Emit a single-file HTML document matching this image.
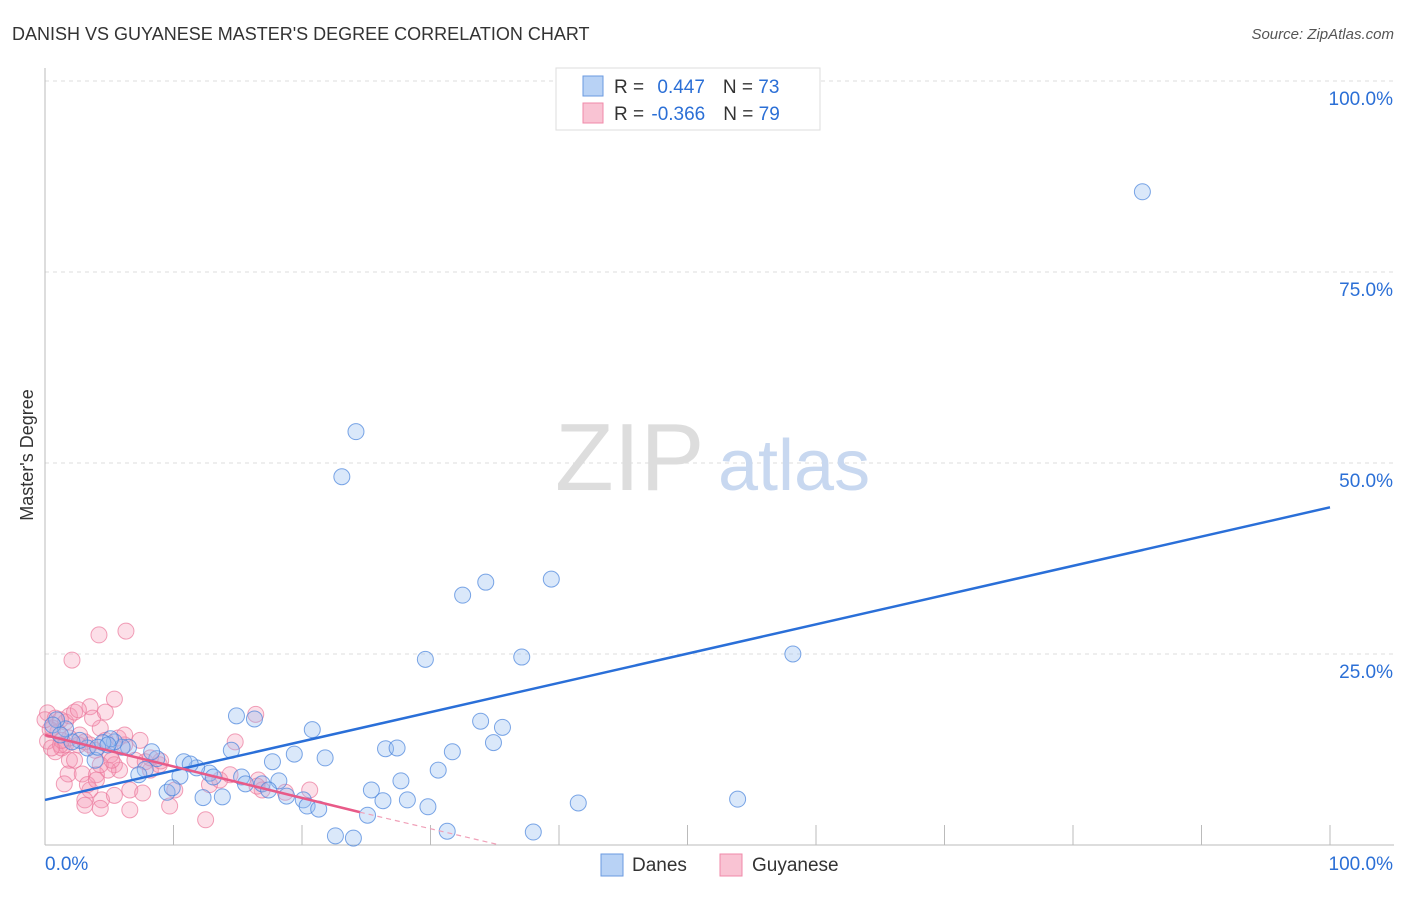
<!DOCTYPE html>
<html><head><meta charset="utf-8"><style>
body{margin:0;background:#fff;font-family:"Liberation Sans",sans-serif;}
svg text{font-family:"Liberation Sans",sans-serif;}
</style></head><body>
<svg width="1406" height="892">
<text x="12" y="40" font-size="18" fill="#333">DANISH VS GUYANESE MASTER'S DEGREE CORRELATION CHART</text>
<text x="1394" y="39" font-size="15" fill="#555" font-style="italic" text-anchor="end">Source: ZipAtlas.com</text>
<g id="grid"></g>
<text x="555" y="490" font-size="96" fill="#ddd" font-family="Liberation Serif">ZIP</text>
<text x="718" y="490" font-size="72" fill="#c8d8f0">atlas</text>
<text x="-455" y="33" transform="rotate(-90)" font-size="18" fill="#333" text-anchor="middle">Master's Degree</text>
<g id="pts"></g><g id="lines"></g>
<g>
<rect x="556" y="68" width="264" height="62" fill="#fff" stroke="#ddd"/>
<rect x="583" y="76" width="20" height="20" fill="#b8d2f5" stroke="#6a9ae0"/>
<rect x="583" y="103" width="20" height="20" fill="#f9c3d3" stroke="#f08aa8"/>
<text x="614" y="93" font-size="19" fill="#333">R = <tspan fill="#2b6fd6" dx="8">0.447</tspan><tspan fill="#333" dx="18">N = </tspan><tspan fill="#2b6fd6">73</tspan></text>
<text x="614" y="120" font-size="19" fill="#333">R = <tspan fill="#2b6fd6" dx="2">-0.366</tspan><tspan fill="#333" dx="18">N = </tspan><tspan fill="#2b6fd6">79</tspan></text>
</g>
<g>
<rect x="601" y="854" width="22" height="22" fill="#b8d2f5" stroke="#6a9ae0"/>
<text x="632" y="871" font-size="19" fill="#333">Danes</text>
<rect x="720" y="854" width="22" height="22" fill="#f9c3d3" stroke="#f08aa8"/>
<text x="752" y="871" font-size="19" fill="#333">Guyanese</text>
</g>
<text x="45" y="870" font-size="19" fill="#2b6fd6">0.0%</text>
<text x="1393" y="870" font-size="19" fill="#2b6fd6" text-anchor="end">100.0%</text>
</svg>
<script>
const yTicks=[25,50,75,100];
const yTickLabels=["25.0%","50.0%","75.0%","100.0%"];
const danesX=[85.4,24.2,23.1,39.4,34.3,32.5,58.2,37.1,29.6,33.9,35.6,34.9,31.7,30.6,26.5,27.4,28.2,26.3,25.4,27.7,29.8,25.1,31.3,38.0,41.5,53.9,22.6,24.0,14.9,16.3,20.8,14.5,19.4,21.8,17.7,15.3,18.2,15.6,16.9,17.4,18.8,20.1,20.4,21.3,12.8,13.1,13.8,12.3,11.8,10.8,11.3,10.5,9.5,9.9,8.7,8.3,7.8,7.3,6.5,6.0,5.4,5.1,4.5,3.9,3.3,2.7,2.1,1.6,0.9,0.6,1.2,4.1,4.9];
const danesY=[85.5,54.1,48.2,34.8,34.4,32.7,25.0,24.6,24.3,16.2,15.4,13.4,12.2,9.8,12.6,12.7,5.9,5.8,7.2,8.4,5.0,3.9,1.8,1.7,5.5,6.0,1.2,0.9,16.9,16.5,15.1,12.4,11.9,11.4,10.9,8.9,8.4,8.0,8.0,7.2,6.4,5.9,5.1,4.7,9.4,8.9,6.3,6.2,10.1,10.9,10.6,9.0,6.9,7.5,11.3,12.2,9.9,9.2,12.8,12.8,13.5,13.9,13.4,11.1,12.7,13.7,13.5,15.2,16.4,15.7,14.4,12.8,13.1];
const guyX=[6.3,4.2,2.1,5.4,3.5,16.4,14.8,0.2,0.8,1.2,1.6,1.9,2.3,2.6,0.6,1.0,0.2,0.8,1.3,1.6,1.9,2.7,3.1,3.5,3.9,4.3,4.7,5.1,5.4,5.8,6.2,5.7,4.9,4.0,3.5,3.1,4.4,6.6,7.6,8.2,7.0,7.8,8.9,10.1,9.7,12.5,12.8,13.6,14.4,16.6,16.9,18.7,20.6,16.5,1.8,1.5,2.9,2.3,1.2,0.4,0.0,4.3,5.2,6.6,5.4,4.3,3.3,7.4,6.2,8.2,3.7,4.7,2.6,1.9,1.3,0.5,3.1,4.0,9.0];
const guyY=[28.0,27.5,24.2,19.1,18.1,17.1,13.5,17.3,16.6,16.4,16.1,16.9,17.4,17.7,15.3,14.8,13.6,12.2,12.7,13.1,11.1,14.4,13.5,13.1,12.4,15.3,13.7,11.8,10.5,9.8,13.1,14.0,9.8,9.2,7.2,5.9,5.9,7.2,6.8,9.8,11.1,10.9,10.5,7.2,5.1,3.3,7.9,8.5,9.2,8.5,7.2,6.9,7.2,7.7,9.3,8.0,9.3,11.1,13.1,15.1,16.4,10.5,11.1,4.6,6.5,4.8,7.9,13.7,14.4,11.4,16.6,17.4,13.1,14.0,13.7,12.7,5.2,8.5,11.0];
const danesFit=[5.9,44.2];
const guyFit=[14.4,4.3,0]; const guyFitX=[0,24.5,35.4];
const sx=v=>45+v*12.85, sy=v=>845-v*7.64;
const NS='http://www.w3.org/2000/svg';
function mk(t,a,p){const e=document.createElementNS(NS,t);for(const k in a)e.setAttribute(k,a[k]);p.appendChild(e);return e;}
const g=document.getElementById('grid');
yTicks.forEach((t,i)=>{
 const l=mk('line',{x1:45,x2:1394,y1:sy(t),y2:sy(t),stroke:'#ddd','stroke-dasharray':'4,4'},g);
 
 
 const tx=mk('text',{x:1393,y:sy(t)+24,'font-size':19,fill:'#2b6fd6','text-anchor':'end'},g);
 tx.textContent=yTickLabels[i];
 
 
});
const ax=mk('line',{x1:45,x2:45,y1:68,y2:845,stroke:'#bbb'},g);


const bx=mk('line',{x1:45,x2:1394,y1:845,y2:845,stroke:'#bbb'},g);


for(let i=1;i<=10;i++){const tk=mk('line',{x1:sx(i*10),x2:sx(i*10),y1:825,y2:845,stroke:'#bbb'},g);
 
 }
const p=document.getElementById('pts');
guyX.forEach((x,i)=>{const c=mk('circle',{cx:sx(x),cy:sy(guyY[i]),r:8,fill:'rgba(245,150,180,0.3)',stroke:'rgba(235,120,155,0.7)'},p);
 
 });
danesX.forEach((x,i)=>{const c=mk('circle',{cx:sx(x),cy:sy(danesY[i]),r:8,fill:'rgba(150,190,240,0.35)',stroke:'rgba(70,130,220,0.7)'},p);
 
 });
const L=document.getElementById('lines');
const bl=mk('line',{x1:sx(0),y1:sy(danesFit[0]),x2:sx(100),y2:sy(danesFit[1]),stroke:'#2a6fd8','stroke-width':2.5},L);


const pl=mk('line',{x1:sx(guyFitX[0]),y1:sy(guyFit[0]),x2:sx(guyFitX[1]),y2:sy(guyFit[1]),stroke:'#e85a88','stroke-width':2.5},L);


const pd=mk('line',{x1:sx(guyFitX[1]),y1:sy(guyFit[1]),x2:sx(guyFitX[2]),y2:sy(guyFit[2]),stroke:'#f0a0b8','stroke-width':1.2,'stroke-dasharray':'5,4'},L);


</script>
</body></html>
